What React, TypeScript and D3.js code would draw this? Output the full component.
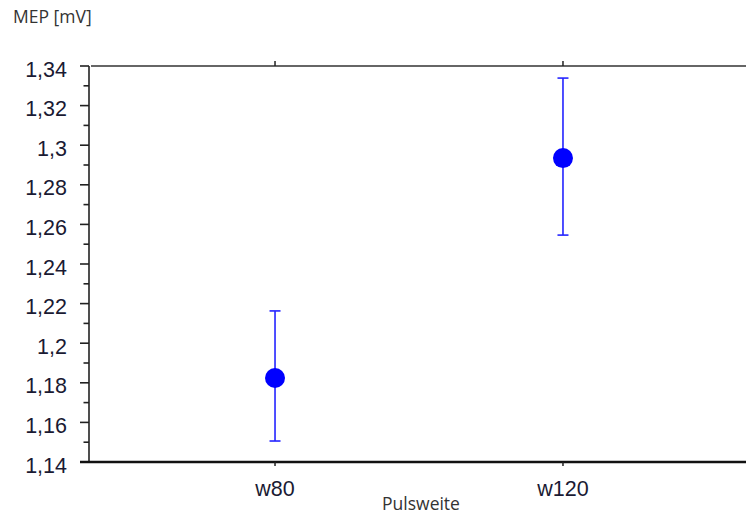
import React from "react";
import * as d3 from "d3";

const categories = ["w80", "w120"];
const means = [1.1824, 1.2935];
const upper = [1.2163, 1.3339];
const lower = [1.1506, 1.2546];
const majorTicks = [1.14, 1.16, 1.18, 1.2, 1.22, 1.24, 1.26, 1.28, 1.3, 1.32, 1.34];
const minorTicks = [1.15, 1.17, 1.19, 1.21, 1.23, 1.25, 1.27, 1.29, 1.31, 1.33];
const yTitle = "MEP [mV]";
const xTitle = "Pulsweite";

const W = 746;
const H = 515;
const left = 89;
const right = 749;
const top = 66;
const bottom = 462;

const fmt = (v: number) => d3.format(".2~f")(v).replace(".", ",");

export default function App() {
  const y = d3.scaleLinear().domain([1.14, 1.34]).range([bottom, top]);
  const x = d3.scalePoint<string>().domain(categories).range([left, right]).padding(0.646);
  const labelFont = "'Liberation Sans', Arial, sans-serif";
  const titleFont = "'Open Sans', 'Noto Sans', sans-serif";
  return (
    <svg width={W} height={H} style={{ position: "absolute", left: 0, top: 0, background: "#fff" }}>
      {/* top frame line */}
      <line x1={left + 2} x2={W} y1={top} y2={top} stroke="#333" strokeWidth={1.5} />
      {/* left axis */}
      <line x1={left} x2={left} y1={top} y2={bottom} stroke="#222" strokeWidth={1.6} />
      {majorTicks.map((t) => (
        <g key={"M" + t}>
          <line x1={left - 9} x2={left} y1={y(t)} y2={y(t)} stroke="#222" strokeWidth={1.6} />
          <text
            x={67}
            y={y(t) + 10.5}
            textAnchor="end"
            fontFamily={labelFont}
            fontSize={21.5}
            fill="#1a1a33"
          >
            {fmt(t)}
          </text>
        </g>
      ))}
      {minorTicks.map((t) => (
        <line key={"m" + t} x1={left - 5.5} x2={left} y1={y(t)} y2={y(t)} stroke="#222" strokeWidth={1.6} />
      ))}
      {/* bottom axis */}
      <line x1={left - 9} x2={W} y1={bottom} y2={bottom} stroke="#111" strokeWidth={2.5} />
      {categories.map((c) => (
        <g key={c}>
          <line x1={x(c)} x2={x(c)} y1={bottom} y2={bottom + 4} stroke="#222" strokeWidth={1.5} />
          <line x1={x(c)} x2={x(c)} y1={top - 5} y2={top} stroke="#222" strokeWidth={1.5} />
          <text
            x={x(c)}
            y={496}
            textAnchor="middle"
            fontFamily={labelFont}
            fontSize={21.5}
            fill="#1a1a33"
          >
            {c}
          </text>
        </g>
      ))}
      {/* error bars and points */}
      {categories.map((c, i) => {
        const cx = x(c) as number;
        return (
          <g key={"e" + c}>
            <line x1={cx} x2={cx} y1={y(upper[i])} y2={y(lower[i])} stroke="#2424ff" strokeWidth={1.6} />
            <line x1={cx - 5.5} x2={cx + 5.5} y1={y(upper[i])} y2={y(upper[i])} stroke="#2424ff" strokeWidth={1.6} />
            <line x1={cx - 5.5} x2={cx + 5.5} y1={y(lower[i])} y2={y(lower[i])} stroke="#2424ff" strokeWidth={1.6} />
            <circle cx={cx} cy={y(means[i])} r={10} fill="#0000ff" />
          </g>
        );
      })}
      <text x={13} y={23} fontFamily={titleFont} fontSize={17.5} fill="#333">
        {yTitle}
      </text>
      <text x={421} y={510} textAnchor="middle" fontFamily={titleFont} fontSize={17.5} fill="#333">
        {xTitle}
      </text>
    </svg>
  );
}
